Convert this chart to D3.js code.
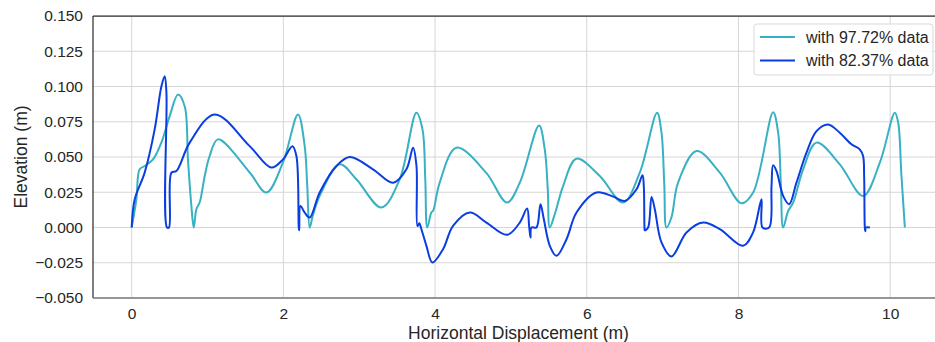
<!DOCTYPE html>
<html>
<head>
<meta charset="utf-8">
<script src="https://cdn.jsdelivr.net/npm/d3@7"></script>
<style>
  body { margin: 0; background: #fff; }
  text { font-family: "Liberation Sans", Arial, sans-serif; fill: #262626; }
</style>
</head>
<body>
<div id="grafica"></div>
<script>
// data: [horizontal displacement (m), elevation (m)]
var seriesNames = ["with 97.72% data", "with 82.37% data"];
var seriesColors = ["#38b1c2", "#0a3ee0"];

var data97 = [
  [0.000, 0.000], [0.062, 0.020], [0.105, 0.0413], [0.172, 0.0436], [0.281, 0.0483],
  [0.392, 0.0604], [0.501, 0.079], [0.611, 0.0943], [0.699, 0.086], [0.742, 0.0483],
  [0.787, 0.0153], [0.818, 0.000], [0.853, 0.013], [0.897, 0.0179], [0.963, 0.0365],
  [1.028, 0.0507], [1.138, 0.0625], [1.556, 0.039], [1.776, 0.0248], [1.995, 0.0462],
  [2.193, 0.0802], [2.281, 0.0577], [2.314, 0.0306], [2.347, 0.000], [2.387, 0.0082],
  [2.479, 0.0224], [2.743, 0.0448], [2.963, 0.0342], [3.293, 0.0142], [3.534, 0.0342],
  [3.754, 0.0814], [3.834, 0.0696], [3.871, 0.034], [3.897, 0.000], [3.952, 0.0108],
  [3.973, 0.0117], [4.061, 0.0318], [4.282, 0.0566], [4.673, 0.0389], [4.949, 0.0177],
  [5.117, 0.0318], [5.371, 0.0724], [5.446, 0.0554], [5.486, 0.027], [5.512, 0.000],
  [5.578, 0.0094], [5.688, 0.0294], [5.864, 0.0488], [6.172, 0.0365], [6.479, 0.0177],
  [6.699, 0.0389], [6.927, 0.0814], [6.985, 0.0674], [7.022, 0.0306], [7.051, 0.000],
  [7.117, 0.0073], [7.204, 0.0318], [7.447, 0.0542], [7.754, 0.0389], [8.040, 0.0172],
  [8.194, 0.0248], [8.457, 0.0818], [8.523, 0.0674], [8.559, 0.0306], [8.589, 0.000],
  [8.655, 0.0117], [8.721, 0.0177], [8.853, 0.0413], [9.029, 0.0602], [9.336, 0.0448],
  [9.644, 0.0224], [9.864, 0.046], [10.062, 0.0814], [10.106, 0.0743], [10.148, 0.0377],
  [10.194, 0.000]
];

var data82 = [
  [0.000, 0.000], [0.040, 0.020], [0.171, 0.0389], [0.303, 0.0696], [0.392, 0.1002],
  [0.435, 0.1073], [0.458, 0.0958], [0.466, 0.000], [0.492, 0.000], [0.524, 0.0389],
  [0.589, 0.040], [0.765, 0.0602], [1.095, 0.0802], [1.556, 0.0577], [1.842, 0.0425],
  [1.995, 0.0483], [2.119, 0.0577], [2.172, 0.0507], [2.203, 0.000], [2.209, -0.002],
  [2.225, 0.0153], [2.281, 0.0106], [2.347, 0.0071], [2.479, 0.0248], [2.699, 0.0436],
  [2.875, 0.050], [3.182, 0.0413], [3.446, 0.0318], [3.622, 0.0413], [3.710, 0.0566],
  [3.755, 0.0436], [3.768, 0.001], [3.792, 0.003], [3.820, -0.0012], [3.886, -0.013],
  [3.965, -0.0248], [4.105, -0.0154], [4.237, 0.0011], [4.457, 0.0106], [4.677, 0.0035],
  [4.949, -0.0052], [5.117, 0.0035], [5.213, 0.0134], [5.240, 0.001], [5.258, -0.0071],
  [5.271, 0.000], [5.337, 0.000], [5.390, 0.0165], [5.434, 0.0059], [5.513, -0.013],
  [5.601, -0.0201], [5.733, -0.0083], [5.865, 0.0106], [6.129, 0.0248], [6.348, 0.0219],
  [6.502, 0.0188], [6.656, 0.0271], [6.735, 0.037], [6.752, 0.0294], [6.761, 0.000],
  [6.765, -0.002], [6.809, 0.000], [6.854, 0.0217], [6.897, 0.013], [6.985, -0.0106],
  [7.117, -0.0205], [7.315, -0.0035], [7.534, 0.0035], [7.754, -0.0012], [8.061, -0.013],
  [8.193, -0.0035], [8.304, 0.020], [8.317, 0.000], [8.405, 0.000], [8.436, 0.0294],
  [8.457, 0.0441], [8.502, 0.040], [8.589, 0.0224], [8.668, 0.0165], [8.765, 0.0318],
  [8.897, 0.0531], [9.029, 0.0684], [9.182, 0.0731], [9.336, 0.0672], [9.490, 0.059],
  [9.599, 0.0554], [9.643, 0.0507], [9.657, 0.0365], [9.666, 0.000], [9.672, -0.0026],
  [9.680, 0.000], [9.733, 0.000]
];

var xTicks = [0, 2, 4, 6, 8, 10];
var yTicks = [-0.050, -0.025, 0.000, 0.025, 0.050, 0.075, 0.100, 0.125, 0.150];

// set the dimensions and margins of the graph
var margin = {top: 16, right: 0, bottom: 44, left: 93},
    width = 851,
    height = 282;

var svg = d3.select("#grafica")
  .append("svg")
  .attr("width", 935)
  .attr("height", 342)
  .append("g")
  .attr("transform", `translate(${margin.left},${margin.top})`);

var x = d3.scaleLinear().domain([-0.51, 10.71]).range([0, width]);
var y = d3.scaleLinear().domain([-0.05, 0.15]).range([height, 0]);

// grid
svg.append("g")
  .selectAll("line")
  .data(xTicks)
  .join("line")
  .attr("x1", d => x(d)).attr("x2", d => x(d))
  .attr("y1", 0).attr("y2", height)
  .attr("stroke", "#d6d6d6").attr("stroke-width", 1);

svg.append("g")
  .selectAll("line")
  .data(yTicks)
  .join("line")
  .attr("x1", 0).attr("x2", width)
  .attr("y1", d => y(d)).attr("y2", d => y(d))
  .attr("stroke", "#d6d6d6").attr("stroke-width", 1);

// axes (tick labels only)
var xAxis = svg.append("g")
  .attr("transform", `translate(0, ${height})`)
  .call(d3.axisBottom(x).tickValues(xTicks).tickSize(0).tickPadding(10).tickFormat(d3.format("d")));
xAxis.select(".domain").remove();
xAxis.selectAll("text").style("font-size", "15.5px").style("fill", "#262626")
  .style("font-family", "'Liberation Sans', Arial, sans-serif");

var yAxis = svg.append("g")
  .call(d3.axisLeft(y).tickValues(yTicks).tickSize(0).tickPadding(10).tickFormat(d3.format(".3f")));
yAxis.select(".domain").remove();
yAxis.selectAll("text").style("font-size", "15.5px").style("fill", "#262626")
  .style("font-family", "'Liberation Sans', Arial, sans-serif");

// spines
svg.append("line").attr("x1", 0).attr("x2", width).attr("y1", 0).attr("y2", 0)
  .attr("stroke", "#333").attr("stroke-width", 1.25);
svg.append("line").attr("x1", 0).attr("x2", 0).attr("y1", 0).attr("y2", height)
  .attr("stroke", "#333").attr("stroke-width", 1.25);
svg.append("line").attr("x1", 0).attr("x2", width).attr("y1", height).attr("y2", height)
  .attr("stroke", "#7a7a7a").attr("stroke-width", 1.5);

// lines
var line = d3.line()
  .x(function(d) { return x(d[0]) })
  .y(function(d) { return y(d[1]) })
  .curve(d3.curveCatmullRom.alpha(0.5));

[data97, data82].forEach(function(s, i) {
  svg.append("path")
    .datum(s)
    .attr("fill", "none")
    .attr("stroke", seriesColors[i])
    .attr("stroke-width", 2)
    .attr("stroke-linejoin", "round")
    .attr("d", line);
});

// axis labels
svg.append("text")
  .attr("x", width / 2)
  .attr("y", 323)
  .style("text-anchor", "middle")
  .style("font-size", "17.5px")
  .text("Horizontal Displacement (m)");

svg.append("text")
  .attr("transform", "rotate(-90)")
  .attr("x", -height / 2)
  .attr("y", -66)
  .style("text-anchor", "middle")
  .style("font-size", "17.5px")
  .text("Elevation (m)");

// legend
var legend = svg.append("g").attr("transform", "translate(661, 8)");
legend.append("rect")
  .attr("width", 179).attr("height", 51).attr("rx", 3)
  .attr("fill", "rgba(255,255,255,0.85)")
  .attr("stroke", "#d9d9d9").attr("stroke-width", 1);

seriesNames.forEach(function(name, i) {
  var g = legend.append("g").attr("transform", `translate(0, ${13 + i * 23.5})`);
  g.append("line").attr("x1", 6).attr("x2", 41).attr("y1", 0).attr("y2", 0)
    .attr("stroke", seriesColors[i]).attr("stroke-width", 2);
  g.append("text").attr("x", 52).attr("y", 5.5)
    .style("font-size", "16px")
    .text(name);
});
</script>
</body>
</html>
